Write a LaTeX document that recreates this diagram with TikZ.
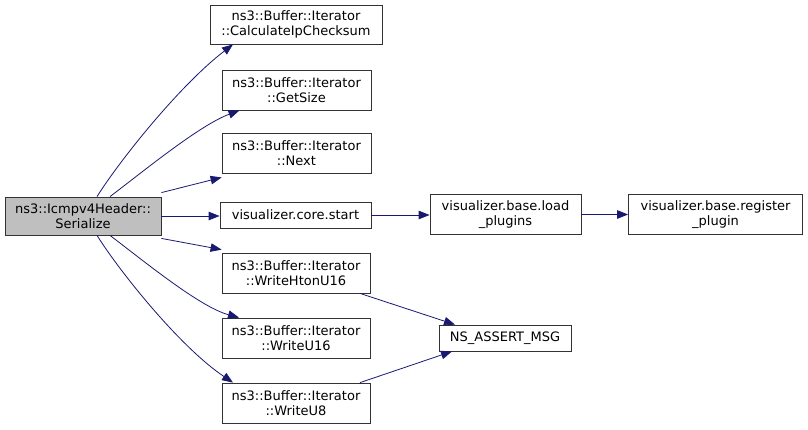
\documentclass[tikz,border=0pt]{standalone}
\usepackage{fontspec}
\setmainfont{DejaVu Sans}
\usetikzlibrary{arrows.meta}
\definecolor{edgeblue}{HTML}{191970}
\definecolor{nodegray}{HTML}{BFBFBF}
\begin{document}
\begin{tikzpicture}[x=1pt,y=-1pt,
	fn/.style={draw=black!80, line width=0.8pt, inner sep=0pt, align=center,
		font=\fontsize{13}{14.5}\selectfont},
	call/.style={draw=edgeblue, line width=0.8pt,
		-{Triangle[length=11pt,width=8.5pt,fill=edgeblue]}}]
		\useasboundingbox (0,0) rectangle (808,429);
		
		\node[fn, fill=nodegray, minimum width=156pt, minimum height=38pt] (main) at (83,216) {ns3::Icmpv4Header::\\Serialize};
		
		\node[fn, minimum width=172pt, minimum height=39pt] (calc) at (296,24.5) {ns3::Buffer::Iterator\\::CalculateIpChecksum};
		\node[fn, minimum width=149pt, minimum height=40pt] (size) at (296.5,90) {ns3::Buffer::Iterator\\::GetSize};
		\node[fn, minimum width=149pt, minimum height=40pt] (next) at (296.5,153) {ns3::Buffer::Iterator\\::Next};
		\node[fn, minimum width=151pt, minimum height=26pt] (start) at (295.5,215) {visualizer.core.start};
		\node[fn, minimum width=148pt, minimum height=40pt] (hton) at (296,273) {ns3::Buffer::Iterator\\::WriteHtonU16};
		\node[fn, minimum width=148pt, minimum height=40pt] (wu16) at (296,338) {ns3::Buffer::Iterator\\::WriteU16};
		\node[fn, minimum width=148pt, minimum height=40pt] (wu8) at (296,403) {ns3::Buffer::Iterator\\::WriteU8};
		
		\node[fn, minimum width=151pt, minimum height=40pt] (load) at (505.5,214.5) {visualizer.base.load\\\_plugins};
		\node[fn, minimum width=174pt, minimum height=40pt] (reg) at (715.5,214.5) {visualizer.base.register\\\_plugin};
		\node[fn, minimum width=132pt, minimum height=26pt] (assert) at (505,338) {NS\_ASSERT\_MSG};
		
		% calls from Serialize
		\draw[call] ([xshift=14pt]main.north) .. controls (120,160) and (180,85) .. ([xshift=-63pt]calc.south);
		\draw[call] ([xshift=27pt]main.north) .. controls (145,170) and (200,125) .. ([xshift=-57pt]size.south);
		\draw[call] ([yshift=4pt]main.north east) -- ([yshift=-4pt]next.south west);
		\draw[call] (main.east) -- (main.east -| start.west);
		\draw[call] ([yshift=-3pt]main.south east) -- ([yshift=3pt]hton.north west);
		\draw[call] ([xshift=27pt]main.south) .. controls (145,262) and (200,307) .. ([xshift=-57pt]wu16.north);
		\draw[call] ([xshift=14pt]main.south) .. controls (120,272) and (180,347) .. ([xshift=-63pt]wu8.north);
		
		% further calls
		\draw[call] (start.east) -- (start.east -| load.west);
		\draw[call] (load.east) -- (reg.west);
		\draw[call] ([xshift=64pt]hton.south) -- ([xshift=-50pt]assert.north);
		\draw[call] ([xshift=64pt]wu8.north) -- ([xshift=-53pt]assert.south);
\end{tikzpicture}
\end{document}
